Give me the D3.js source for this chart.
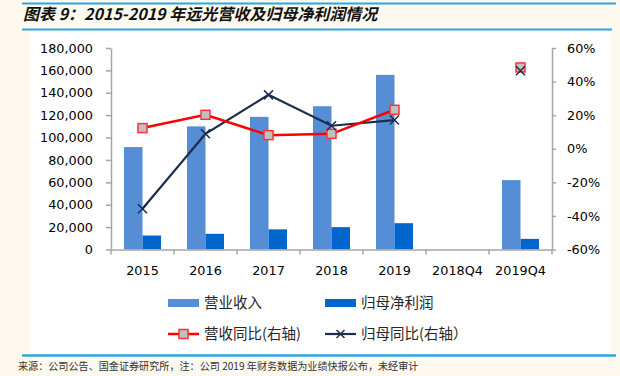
<!DOCTYPE html>
<html>
<head>
<meta charset="utf-8">
<script src="https://cdn.jsdelivr.net/npm/d3@7"></script>
<style>
  body { margin: 0; background: #fef9ef; }
  svg { display: block; }
  .tick text { font-family: "DejaVu Sans", sans-serif; font-size: 12.8px; fill: #000; }
</style>
</head>
<body>
<div id="canvas"></div>
<script>
"use strict"

let svgWidth = 620
let svgHeight = 376

/* data */
let categories = ["2015", "2016", "2017", "2018", "2019", "2018Q4", "2019Q4"]
let revenue = [91500, 110000, 118500, 128000, 156000, null, 62000]      // 营业收入
let netProfit = [12500, 14000, 18000, 20000, 23500, null, 9500]         // 归母净利润
let revenueYoY = [0.123, 0.202, 0.081, 0.089, 0.232, null, 0.484]      // 营收同比
let profitYoY = [-0.357, 0.089, 0.321, 0.137, 0.171, null, 0.464]      // 归母同比
let leftTicks = [0, 20000, 40000, 60000, 80000, 100000, 120000, 140000, 160000, 180000]
let rightTicks = [-0.6, -0.4, -0.2, 0, 0.2, 0.4, 0.6]
let seriesNames = ["营业收入", "归母净利润", "营收同比(右轴)", "归母同比(右轴）"]

let plotLeft = 111
let plotRight = 552
let plotTop = 48
let plotBottom = 249.5

let svg = d3.select("#canvas")
    .append("svg")
    .attr("width", svgWidth)
    .attr("height", svgHeight)

/* page frame: cream background, white panel, blue rules */
svg.append("rect")
    .attr("width", svgWidth)
    .attr("height", svgHeight)
    .attr("fill", "#fef9ef")

svg.append("rect")
    .attr("x", 30)
    .attr("y", 30)
    .attr("width", 580)
    .attr("height", 324)
    .attr("fill", "#ffffff")

svg.append("line")
    .attr("x1", 22).attr("x2", 616)
    .attr("y1", 3.5).attr("y2", 3.5)
    .attr("stroke", "#2aa7e1").attr("stroke-width", 2)

svg.append("line")
    .attr("x1", 22).attr("x2", 612)
    .attr("y1", 29.5).attr("y2", 29.5)
    .attr("stroke", "#2aa7e1").attr("stroke-width", 2)

svg.append("line")
    .attr("x1", 22).attr("x2", 616)
    .attr("y1", 355.5).attr("y2", 355.5)
    .attr("stroke", "#2aa7e1").attr("stroke-width", 2.5)

/* title */
svg.append("text")
    .attr("x", 23)
    .attr("y", 20)
    .attr("font-family", "'Noto Sans CJK SC', sans-serif")
    .attr("font-size", 16)
    .attr("font-weight", "bold")
    .attr("font-style", "italic")
    .attr("fill", "#111")
    .text("图表 9：2015-2019 年远光营收及归母净利润情况")

/* scales */
let xScale = d3.scaleBand()
    .domain(categories)
    .range([plotLeft, plotRight])

let barScale = d3.scaleBand()
    .domain(["revenue", "profit"])
    .range([xScale.bandwidth() / 2 - 18.5, xScale.bandwidth() / 2 + 18.5])

let yLeft = d3.scaleLinear()
    .domain([0, 180000])
    .range([plotBottom, plotTop])

let yRight = d3.scaleLinear()
    .domain([-0.6, 0.6])
    .range([plotBottom, plotTop])

/* bars */
let barData = []
categories.forEach(function (c, i) {
    if (revenue[i] != null) barData.push({cat: c, key: "revenue", value: revenue[i]})
    if (netProfit[i] != null) barData.push({cat: c, key: "profit", value: netProfit[i]})
})

svg.selectAll("rect.bar")
    .data(barData)
    .join("rect")
    .attr("class", "bar")
    .attr("x", d => xScale(d.cat) + barScale(d.key))
    .attr("y", d => yLeft(d.value))
    .attr("width", barScale.bandwidth())
    .attr("height", d => plotBottom - yLeft(d.value))
    .attr("fill", d => d.key == "revenue" ? "#558ed5" : "#0066cc")

/* axes */
let axisColor = "#a6a6a6"
let pct = d3.format(".0%")

svg.append("g")
    .attr("transform", "translate(" + plotLeft + ",0)")
    .call(d3.axisLeft(yLeft)
        .tickValues(leftTicks)
        .tickFormat(d3.format(","))
        .tickSizeInner(5)
        .tickSizeOuter(0)
        .tickPadding(13))

svg.append("g")
    .attr("transform", "translate(" + plotRight + ",0)")
    .call(d3.axisRight(yRight)
        .tickValues(rightTicks)
        .tickFormat(d => pct(d).replace("\u2212", "-"))
        .tickSizeInner(4)
        .tickSizeOuter(0)
        .tickPadding(11))

let bottomAxis = svg.append("g")
    .attr("transform", "translate(0," + plotBottom + ")")
    .call(d3.axisBottom(xScale)
        .tickSizeInner(0)
        .tickSizeOuter(0)
        .tickPadding(16))

// category boundary ticks
bottomAxis.selectAll("line.boundary")
    .data(categories.concat(["end"]))
    .join("line")
    .attr("class", "boundary")
    .attr("x1", d => d == "end" ? plotRight : xScale(d))
    .attr("x2", d => d == "end" ? plotRight : xScale(d))
    .attr("y1", 0)
    .attr("y2", 5)
    .attr("stroke", axisColor)
    .attr("stroke-width", 1.5)

svg.selectAll(".domain, .tick line")
    .attr("stroke", axisColor)
    .attr("stroke-width", 1.5)

/* lines on the right axis */
let cx = d => xScale(d.cat) + xScale.bandwidth() / 2

let revYoYData = categories.map((c, i) => ({cat: c, value: revenueYoY[i]}))
let profYoYData = categories.map((c, i) => ({cat: c, value: profitYoY[i]}))

let lineGen = d3.line()
    .defined(d => d.value != null)
    .x(cx)
    .y(d => yRight(d.value))

svg.append("path")
    .datum(profYoYData)
    .attr("fill", "none")
    .attr("stroke", "#1b2c4c")
    .attr("stroke-width", 2.2)
    .attr("d", lineGen)

svg.append("path")
    .datum(revYoYData)
    .attr("fill", "none")
    .attr("stroke", "#ff0000")
    .attr("stroke-width", 2.5)
    .attr("d", lineGen)

svg.selectAll("rect.revMarker")
    .data(revYoYData.filter(d => d.value != null))
    .join("rect")
    .attr("class", "revMarker")
    .attr("x", d => cx(d) - 4.5)
    .attr("y", d => yRight(d.value) - 4.5)
    .attr("width", 9)
    .attr("height", 9)
    .attr("fill", "#c0c0c0")
    .attr("stroke", "#ff3333")
    .attr("stroke-width", 1.5)

svg.selectAll("path.profMarker")
    .data(profYoYData.filter(d => d.value != null))
    .join("path")
    .attr("class", "profMarker")
    .attr("d", d => {
        let x = cx(d), y = yRight(d.value), s = 4.5
        return "M" + (x - s) + "," + (y - s) + "L" + (x + s) + "," + (y + s) +
               "M" + (x - s) + "," + (y + s) + "L" + (x + s) + "," + (y - s)
    })
    .attr("stroke", "#1b2c4c")
    .attr("stroke-width", 1.5)

/* legend */
let legendFont = "'Noto Sans CJK SC', sans-serif"
let legendCols = [168, 325]
let legendRows = [303, 334]

function legendText(x, y, label) {
    svg.append("text")
        .attr("x", x + 36)
        .attr("y", y + 5)
        .attr("font-family", legendFont)
        .attr("font-size", 14.5)
        .attr("fill", "#262626")
        .text(label)
}

// bars
svg.append("rect")
    .attr("x", legendCols[0]).attr("y", legendRows[0] - 4)
    .attr("width", 31).attr("height", 8)
    .attr("fill", "#558ed5")
legendText(legendCols[0], legendRows[0], seriesNames[0])

svg.append("rect")
    .attr("x", legendCols[1]).attr("y", legendRows[0] - 4)
    .attr("width", 31).attr("height", 8)
    .attr("fill", "#0066cc")
legendText(legendCols[1], legendRows[0], seriesNames[1])

// red line with square
svg.append("line")
    .attr("x1", legendCols[0]).attr("x2", legendCols[0] + 31)
    .attr("y1", legendRows[1]).attr("y2", legendRows[1])
    .attr("stroke", "#ff0000").attr("stroke-width", 2.5)
svg.append("rect")
    .attr("x", legendCols[0] + 11).attr("y", legendRows[1] - 4.5)
    .attr("width", 9).attr("height", 9)
    .attr("fill", "#c0c0c0").attr("stroke", "#ff3333").attr("stroke-width", 1.5)
legendText(legendCols[0], legendRows[1], seriesNames[2])

// dark line with cross
svg.append("line")
    .attr("x1", legendCols[1]).attr("x2", legendCols[1] + 31)
    .attr("y1", legendRows[1]).attr("y2", legendRows[1])
    .attr("stroke", "#1b2c4c").attr("stroke-width", 2.2)
svg.append("path")
    .attr("d", "M" + (legendCols[1] + 11.5) + "," + (legendRows[1] - 4) + "l8,8" +
               "M" + (legendCols[1] + 11.5) + "," + (legendRows[1] + 4) + "l8,-8")
    .attr("stroke", "#1b2c4c").attr("stroke-width", 1.5)
legendText(legendCols[1], legendRows[1], seriesNames[3])

/* footer */
svg.append("text")
    .attr("x", 18)
    .attr("y", 369.5)
    .attr("font-family", legendFont)
    .attr("font-size", 10.1)
    .attr("fill", "#333")
    .text("来源：公司公告、国金证券研究所，注：公司 2019 年财务数据为业绩快报公布，未经审计")
</script>
</body>
</html>
